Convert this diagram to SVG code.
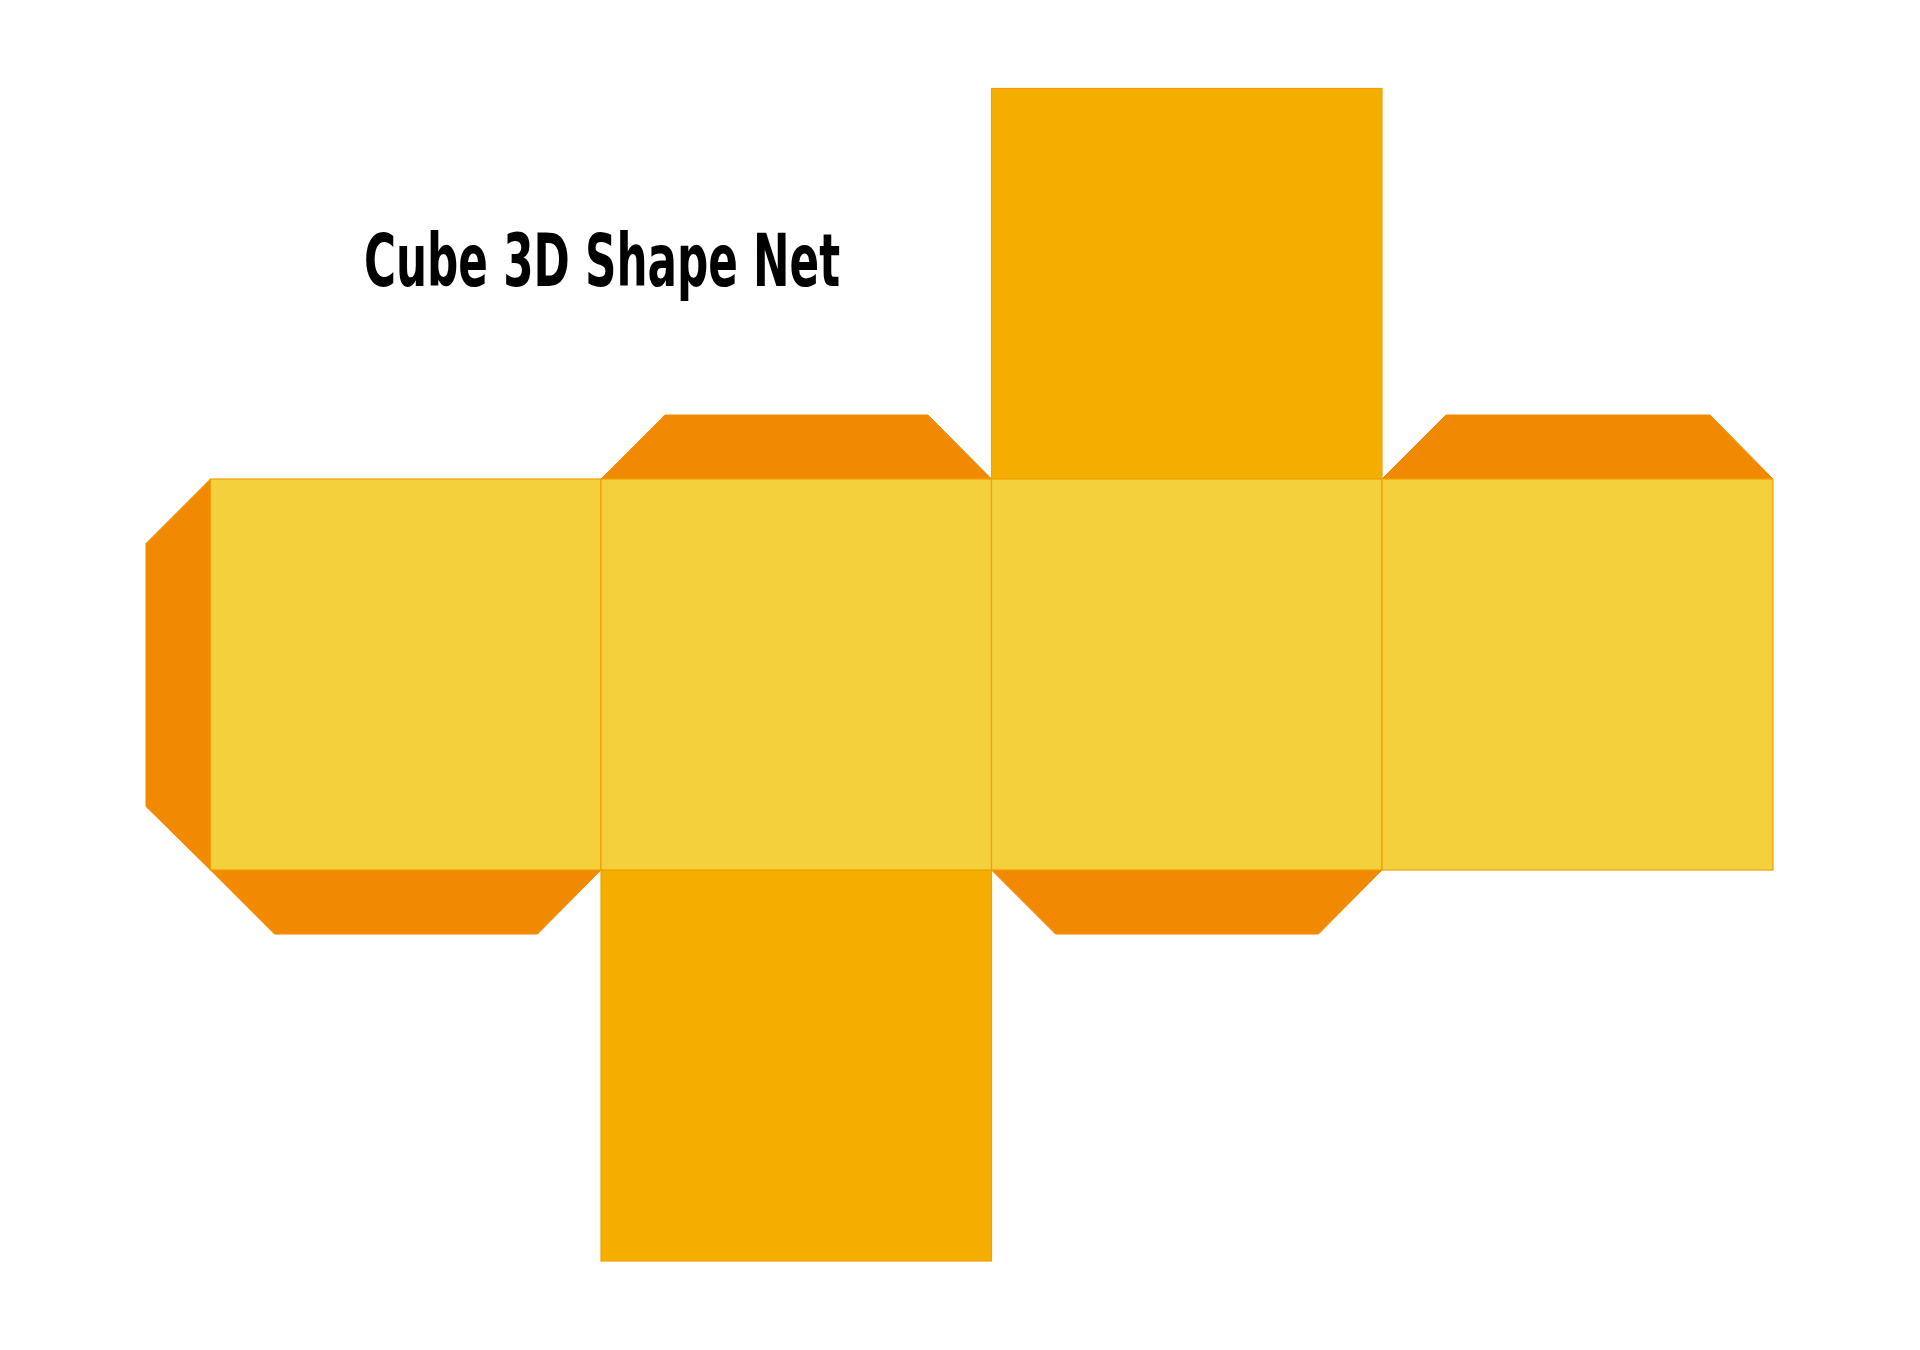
<svg xmlns="http://www.w3.org/2000/svg" width="1920" height="1350" viewBox="0 0 1920 1350">
<style>
.face{fill:#F4D03C;stroke:#F0A000;stroke-width:1.2}
.cap{fill:#F4AE00;stroke:#F0A000;stroke-width:1.2}
.tab{fill:#F18A00;stroke:#F18A00;stroke-width:1}
.title{font-family:"DejaVu Sans Condensed","DejaVu Sans",sans-serif;font-weight:bold;font-size:73px;fill:#000}
</style>
<rect width="1920" height="1350" fill="#fff"/>
<g id="tabs">
<polygon class="tab" points="210.5,479 146,543.5 146,806.5 210.5,870"/>
<polygon class="tab" points="601,479 665,415 928,415 991.5,479"/>
<polygon class="tab" points="1382,479 1446,415 1710,415 1773,479"/>
<polygon class="tab" points="210.5,870 274.5,934 537.5,934 601,870"/>
<polygon class="tab" points="991.5,870 1055.5,934 1318.5,934 1382,870"/>
</g>
<g id="top-face"><rect class="cap" x="991.5" y="88.5" width="390.5" height="390.5"/></g>
<g id="bottom-face"><rect class="cap" x="601" y="870" width="390.5" height="391"/></g>
<g id="face-1"><rect class="face" x="210.5" y="479" width="390.5" height="391"/></g>
<g id="face-2"><rect class="face" x="601" y="479" width="390.5" height="391"/></g>
<g id="face-3"><rect class="face" x="991.5" y="479" width="390.5" height="391"/></g>
<g id="face-4"><rect class="face" x="1382" y="479" width="391" height="391"/></g>
<g id="title"><text class="title" x="364" y="286" textLength="476" lengthAdjust="spacingAndGlyphs">Cube 3D Shape Net</text></g>
</svg>
